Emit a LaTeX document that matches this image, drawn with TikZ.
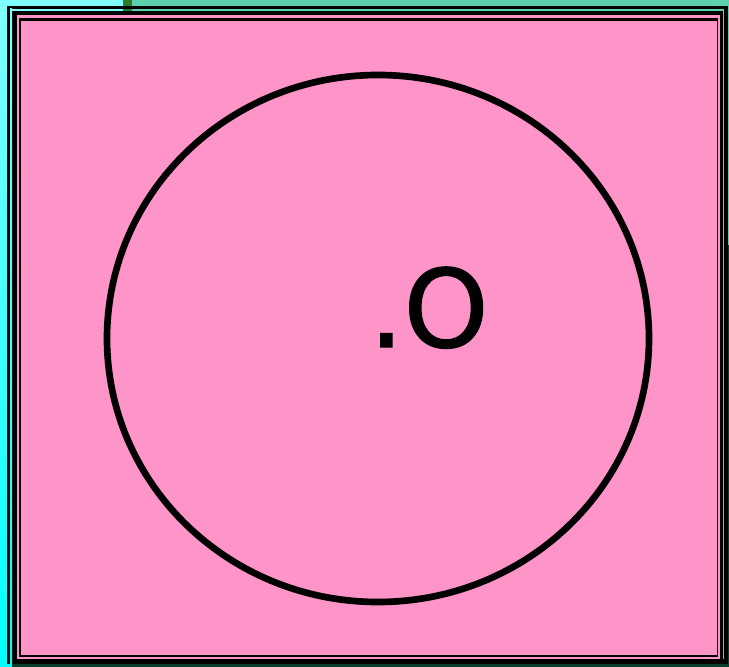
\documentclass[tikz,border=0pt]{standalone}
\usepackage{fontspec}
\newfontfamily\labelfont[FakeBold=1.2]{DejaVu Sans}
\definecolor{cyanL}{HTML}{80FFFF}
\definecolor{cyanB}{HTML}{00FFFF}
\definecolor{tealc}{HTML}{5CCFAE}
\definecolor{dgreen}{HTML}{2F7A2A}
\definecolor{vdgreen}{HTML}{0A3F30}
\definecolor{pinkc}{HTML}{FF94C8}
\tikzset{
  frameline/.style={fill=black},
  pinkband/.style={fill=pinkc},
  ring/.style={draw=black, line width=5pt},
  bigtext/.style={font=\labelfont\fontsize{81}{81}\selectfont, inner sep=0pt, text=black}
}
\begin{document}
\begin{tikzpicture}[x=0.75pt,y=-0.75pt]
\useasboundingbox (0,0) rectangle (729,667);
% background pieces
\shade[top color=cyanL, bottom color=cyanB] (0,0) rectangle (123,667);
\fill[cyanL] (0,0) rectangle (123,11);
\fill[tealc] (132,0) rectangle (729,667);
\fill[dgreen] (123,0) rectangle (132,12);
\fill[vdgreen] (12,664) rectangle (729,667);
\fill[vdgreen] (728,245) rectangle (729,667);
% outer black frame
\fill[frameline] (7,6) rectangle (728,664);
% gap showing background
\fill[cyanL] (10,9) rectangle (123,11);
\fill[dgreen] (123,9) rectangle (132,11);
\fill[tealc] (132,9) rectangle (723.3,11);
\shade[top color=cyanL, bottom color=cyanB] (10,9) rectangle (12,663);
\fill[tealc] (723,9) rectangle (724,659);
% pink band
\fill[pinkband] (16.5,15.5) rectangle (720,659);
% innermost line
\fill[frameline] (18.5,18) rectangle (718.2,657.3);
% pink interior
\fill[pinkband] (21.3,20.8) rectangle (717,655);
% circle
\draw[ring] (378,338.5) ellipse [x radius=271, y radius=263.5];
% label
\node[bigtext, anchor=base west] (lbl) at (369,347) {.O};
\end{tikzpicture}
\end{document}
